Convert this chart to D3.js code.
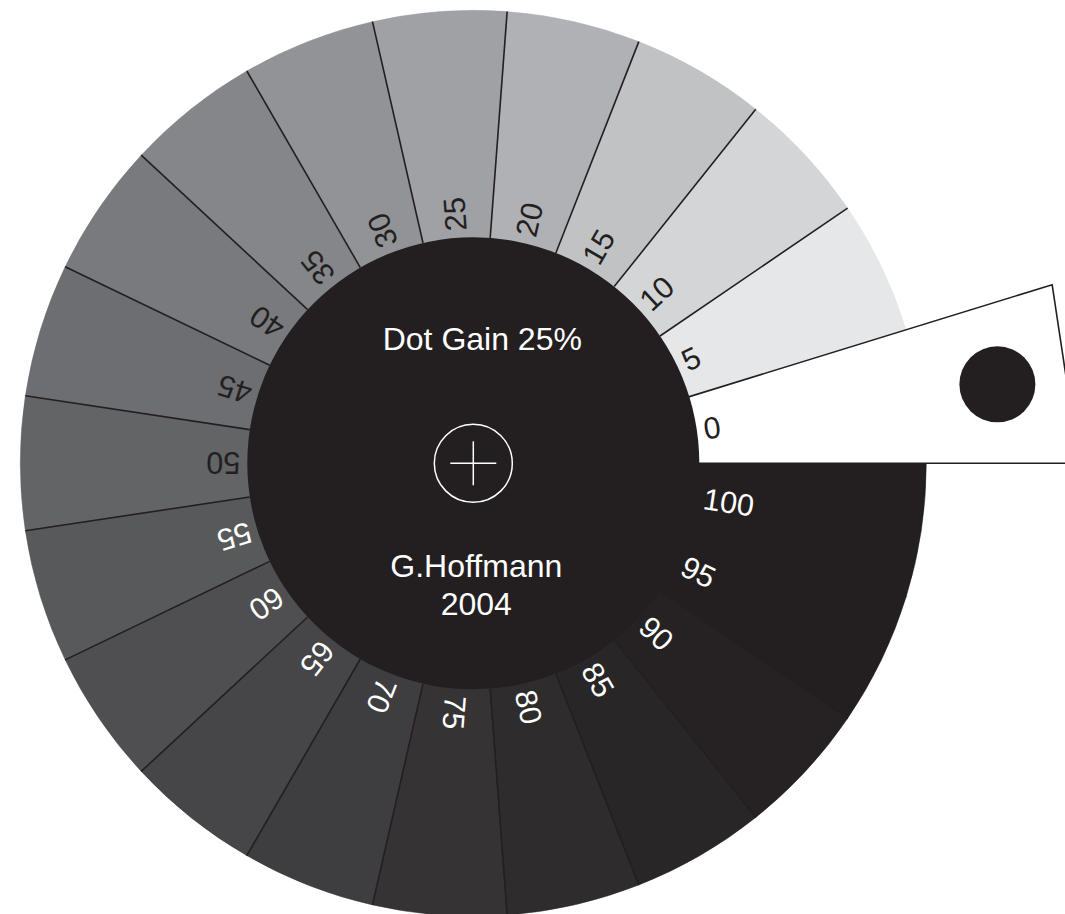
<!DOCTYPE html>
<html>
<head>
<meta charset="utf-8">
<script src="https://cdn.jsdelivr.net/npm/d3@7"></script>
<style>
  body { margin: 0; background: #fff; }
  svg { display: block; }
  text { font-family: "Liberation Sans", Arial, Helvetica, sans-serif; }
</style>
</head>
<body>
<div id="wheel"></div>
<script>
// tint values printed on the wheel (%)
var tints = [0, 5, 10, 15, 20, 25, 30, 35, 40, 45, 50, 55, 60, 65, 70, 75, 80, 85, 90, 95, 100];
// apparent tone of each patch after 25% dot gain (%)
var tones = [0, 10, 19, 28, 36, 44, 51, 58, 64, 70, 75, 80, 84, 88, 91, 94, 96, 98, 99, 100, 100];

var titleText = 'Dot Gain 25%';
var creditLines = ['G.Hoffmann', '2004'];

var width = 1065,
    height = 914;

var center = { x: 473.3, y: 463.3 };
var rIn = 226,
    rOut = 453,
    labelR = 233,
    tabEnd = 599,   // distance of the tab end along its axis
    dotR = 38,
    dotDist = 530;

var ink = '#231f20';

// tone -> printed grey (K tint swatches)
var toneColor = d3.scaleLinear()
  .domain([0, 10, 20, 30, 40, 50, 60, 70, 80, 90, 100])
  .range(['#ffffff', '#e6e7e8', '#d1d3d4', '#bcbec0', '#a7a9ac', '#939598',
          '#808285', '#6d6e71', '#58595b', '#414042', ink]);

// tint -> angle, counter clockwise starting at east
var angle = d3.scaleLinear()
  .domain([0, 105])
  .range([Math.PI / 2, Math.PI / 2 - 2 * Math.PI]);

var step = 5;

var svg = d3.select('#wheel')
  .append('svg')
  .attr('width', width)
  .attr('height', height);

var g = svg.append('g')
  .attr('transform', 'translate(' + center.x + ',' + center.y + ')');

var arc = d3.arc()
  .innerRadius(rIn - 2)
  .outerRadius(rOut)
  .startAngle(function(d) { return angle(d.tint); })
  .endAngle(function(d) { return angle(d.tint + step); });

var patches = tints.map(function(t, i) { return { tint: t, tone: tones[i] }; });

// grey patches (0 is the white tab, drawn separately)
g.selectAll('path.patch')
  .data(patches.filter(function(d) { return d.tint > 0; }))
  .enter()
  .append('path')
  .attr('class', 'patch')
  .attr('d', arc)
  .attr('fill', function(d) { return toneColor(d.tone); })
  .attr('stroke', function(d) { return toneColor(d.tone); })
  .attr('stroke-width', 0.5);

// dividing lines between patches
g.selectAll('line.divider')
  .data(patches.filter(function(d) { return d.tint > 0 && d.tint < 100; }))
  .enter()
  .append('line')
  .attr('class', 'divider')
  .each(function(d) {
    var a = angle(d.tint + step);
    var p0 = d3.pointRadial(a, rIn),
        p1 = d3.pointRadial(a, rOut);
    d3.select(this)
      .attr('x1', p0[0]).attr('y1', p0[1])
      .attr('x2', p1[0]).attr('y2', p1[1]);
  })
  .attr('stroke', ink)
  .attr('stroke-width', 1.6);

// white tab for 0%
var tab = patches[0];
var a0 = angle(tab.tint + step),
    a1 = angle(tab.tint),
    aMid = angle(tab.tint + step / 2),
    half = Math.abs(a1 - a0) / 2,
    cornerR = tabEnd / Math.cos(half);

var tabPath = d3.path();
var q = d3.pointRadial(a0, rIn - 10);
tabPath.moveTo(q[0], q[1]);
q = d3.pointRadial(a0, cornerR); tabPath.lineTo(q[0], q[1]);
q = d3.pointRadial(a1, cornerR); tabPath.lineTo(q[0], q[1]);
q = d3.pointRadial(a1, rIn - 10); tabPath.lineTo(q[0], q[1]);
tabPath.closePath();

g.append('path')
  .attr('class', 'tab')
  .attr('d', tabPath.toString())
  .attr('fill', toneColor(tab.tone))
  .attr('stroke', ink)
  .attr('stroke-width', 1.6);

var dotPos = d3.pointRadial(aMid, dotDist);
g.append('circle')
  .attr('cx', dotPos[0])
  .attr('cy', dotPos[1])
  .attr('r', dotR)
  .attr('fill', ink);

// centre disc
g.append('circle')
  .attr('r', rIn)
  .attr('fill', ink);

// tint labels, reading outward
g.selectAll('text.tint')
  .data(patches)
  .enter()
  .append('text')
  .attr('class', 'tint')
  .attr('transform', function(d) {
    var deg = angle(d.tint + step / 2) * 180 / Math.PI;
    return 'rotate(' + (deg - 90) + ')';
  })
  .attr('x', labelR)
  .attr('dy', '0.36em')
  .attr('font-size', 30.5)
  .attr('fill', function(d) { return d.tone > 77 ? '#fff' : ink; })
  .text(function(d) { return d.tint; });

// centre texts
g.append('text')
  .attr('x', 9)
  .attr('y', 350 - center.y)
  .attr('text-anchor', 'middle')
  .attr('font-size', 32)
  .attr('fill', '#fff')
  .text(titleText);

g.selectAll('text.credit')
  .data(creditLines)
  .enter()
  .append('text')
  .attr('class', 'credit')
  .attr('x', 3)
  .attr('y', function(d, i) { return 577 - center.y + i * 38; })
  .attr('text-anchor', 'middle')
  .attr('font-size', 32)
  .attr('fill', '#fff')
  .text(function(d) { return d; });

// registration mark
g.append('circle')
  .attr('r', 39)
  .attr('fill', 'none')
  .attr('stroke', '#fff')
  .attr('stroke-width', 1.5);

g.append('line')
  .attr('x1', -23).attr('x2', 23)
  .attr('stroke', '#fff')
  .attr('stroke-width', 1.5);

g.append('line')
  .attr('y1', -22).attr('y2', 22)
  .attr('stroke', '#fff')
  .attr('stroke-width', 1.5);
</script>
</body>
</html>
